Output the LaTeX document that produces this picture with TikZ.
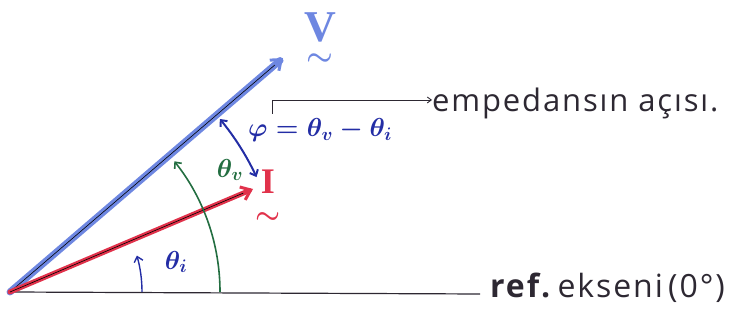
\RequirePackage{fix-cm}
\documentclass[tikz,border=0pt]{standalone}
\usepackage{amsmath}
\usepackage{fontspec}
\setmainfont{Open Sans}
\newfontfamily\hand[LetterSpace=6]{Open Sans}
\newfontfamily\phfont{Liberation Serif}
\usetikzlibrary{arrows.meta,calc}
\definecolor{vblue}{RGB}{110,135,225}
\definecolor{ired}{RGB}{225,50,75}
\definecolor{agreen}{RGB}{35,110,65}
\definecolor{dblue}{RGB}{35,45,165}
\definecolor{txt}{RGB}{45,40,50}
\tikzset{
  phasor/.style={line width=7pt, line cap=round, -{Straight Barb[length=9pt,width=14pt,line width=3pt]}},
  core/.style={black, line width=0.6pt},
  anglearc/.style={line width=1.6pt, -{Straight Barb[length=5pt,width=9pt]}},
  lbl/.style={inner sep=0pt},
  tildemark/.style={inner sep=0pt, text height=4pt, text depth=0pt},
}
\begin{document}
\begin{tikzpicture}[x=1pt,y=1pt]
\useasboundingbox (0,0) rectangle (735,320);
% points
\coordinate (O) at (10,28);
\coordinate (V) at (283,262);
\coordinate (I) at (253,131);
\coordinate (A) at (480,26);
% reference axis
\draw[txt, line width=1.2pt] (O) -- (A);
\node[lbl, anchor=base west, txt] (ref) at (490,22) {\hand\fontsize{32}{32}\selectfont \textbf{ref.}\,ekseni\,(0°)};
% phasors
\draw[phasor, vblue] (O) -- (V);
\draw[core] (O) -- ($(O)!0.97!(V)$);
\draw[phasor, ired, line width=5pt] (O) -- (I);
\draw[core] (O) -- ($(O)!0.96!(I)$);
% angle arcs
\draw[anglearc, agreen] ([shift={(0:210)}]O) arc[start angle=0, end angle=38.5, radius=210];
\draw[anglearc, dblue, line width=1.4pt] ([shift={(0:132)}]O) arc[start angle=0, end angle=16, radius=132];
\draw[anglearc, dblue, line width=2pt, {Straight Barb[length=5pt,width=9pt]}-{Straight Barb[length=5pt,width=9pt]}] ([shift={(39.5:272)}]O) arc[start angle=39.5, end angle=25, radius=272];
% labels
\node[lbl, vblue] (Vl) at (320,293) {\phfont\bfseries\fontsize{44}{44}\selectfont V};
\node[tildemark, vblue] (Vt) at (320,256) {\fontsize{30}{30}\selectfont $\boldsymbol{\sim}$};
\node[lbl, ired] (Il) at (268,138) {\phfont\bfseries\fontsize{36}{36}\selectfont I};
\node[tildemark, ired] (It) at (268,98) {\fontsize{28}{28}\selectfont $\boldsymbol{\sim}$};
\node[lbl, agreen] (tv) at (230,150) {\fontsize{26}{26}\selectfont $\boldsymbol{\theta_v}$};
\node[lbl, dblue] (ti) at (176,58) {\fontsize{26}{26}\selectfont $\boldsymbol{\theta_i}$};
\node[lbl, dblue, anchor=west] (phi) at (248,190) {\fontsize{26}{26}\selectfont $\boldsymbol{\varphi=\theta_v-\theta_i}$};
\coordinate (b1) at (272,206);
\coordinate (b2) at (272,220);
\node[lbl, anchor=base west, txt] (emp) at (432,208) {\hand\fontsize{31}{31}\selectfont empedansın açısı.};
\draw[txt, line width=0.9pt, -{Straight Barb[length=4pt,width=6pt]}] (b1) -- (b2) -- (emp.west |- b2);
\end{tikzpicture}
\end{document}
